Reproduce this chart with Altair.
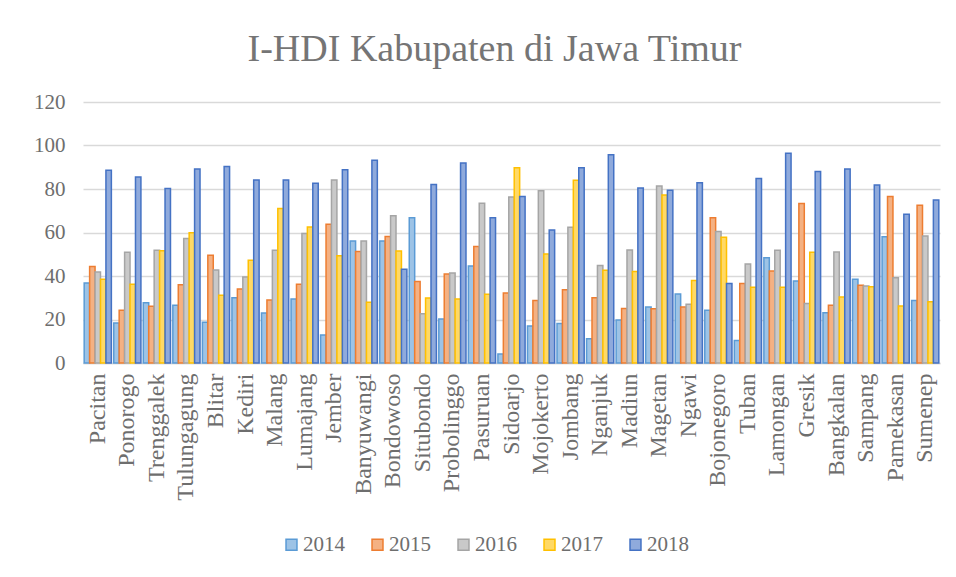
import altair as alt
import pandas as pd

regencies = ["Pacitan", "Ponorogo", "Trenggalek", "Tulungagung", "Blitar", "Kediri", "Malang",
             "Lumajang", "Jember", "Banyuwangi", "Bondowoso", "Situbondo", "Probolinggo",
             "Pasuruan", "Sidoarjo", "Mojokerto", "Jombang", "Nganjuk", "Madiun", "Magetan",
             "Ngawi", "Bojonegoro", "Tuban", "Lamongan", "Gresik", "Bangkalan", "Sampang",
             "Pamekasan", "Sumenep"]
years = ["2014", "2015", "2016", "2017", "2018"]

v2014 = [36.8, 18.4, 27.7, 26.5, 18.7, 30.0, 23.0, 29.4, 12.9, 56.1, 56.1, 66.8, 20.2, 44.6, 4.1,
         17.0, 18.2, 11.2, 19.8, 25.7, 31.7, 24.2, 10.3, 48.4, 37.7, 23.1, 38.5, 58.1, 28.7]
v2015 = [44.4, 24.2, 26.1, 36.0, 49.5, 34.0, 29.0, 36.2, 63.8, 51.3, 58.2, 37.5, 40.9, 53.6, 32.2,
         28.7, 33.7, 30.0, 25.1, 25.0, 25.7, 66.8, 36.5, 42.3, 73.3, 26.5, 35.7, 76.6, 72.5]
v2016 = [41.8, 50.9, 51.8, 57.2, 42.8, 39.5, 51.8, 59.5, 84.1, 56.1, 67.7, 22.7, 41.4, 73.4, 76.3,
         79.2, 62.4, 44.8, 52.0, 81.4, 27.0, 60.5, 45.5, 51.8, 27.3, 51.0, 35.4, 39.2, 58.4]
v2017 = [38.5, 36.2, 51.6, 59.9, 31.1, 47.2, 71.0, 62.5, 49.3, 27.9, 51.5, 29.9, 29.4, 31.6, 89.8,
         50.1, 84.0, 42.6, 42.1, 77.2, 37.9, 57.8, 34.8, 34.8, 50.9, 30.3, 35.1, 26.2, 28.2]
v2018 = [88.6, 85.5, 80.2, 89.2, 90.3, 84.1, 84.1, 82.6, 88.9, 93.2, 43.1, 82.1, 92.0, 66.8, 76.6,
         61.1, 89.8, 95.8, 80.5, 79.4, 82.9, 36.5, 84.8, 96.4, 88.1, 89.2, 81.8, 68.4, 74.9]

series = {"2014": v2014, "2015": v2015, "2016": v2016, "2017": v2017, "2018": v2018}
rows = []
for y, vals in series.items():
    for r, v in zip(regencies, vals):
        rows.append({"Kabupaten": r, "Tahun": y, "Nilai": v})
df = pd.DataFrame(rows)

stroke_colors = ["#5B9BD5", "#ED7D31", "#A5A5A5", "#FFC000", "#4472C4"]
fill_colors = ["#9DC3E6", "#F4B183", "#C9C9C9", "#FFD966", "#8FAADC"]

FONT = "Liberation Serif"
TXT = "#6E6E6E"

chart = alt.Chart(df).mark_bar(strokeWidth=1.5).encode(
    x=alt.X("Kabupaten:N", sort=regencies, title=None,
            scale=alt.Scale(paddingInner=0.08, paddingOuter=0.04),
            axis=alt.Axis(labelAngle=-90, labelAlign="right", labelBaseline="middle",
                          labelFont=FONT, labelFontSize=24, labelColor=TXT,
                          labelPadding=10, ticks=False, domainColor="#D9D9D9",
                          domainWidth=1.5, grid=False)),
    xOffset=alt.XOffset("Tahun:N", sort=years, scale=alt.Scale(paddingInner=0, paddingOuter=0)),
    y=alt.Y("Nilai:Q", title=None,
            scale=alt.Scale(domain=[0, 120], nice=False),
            axis=alt.Axis(values=[0, 20, 40, 60, 80, 100, 120], labelFont=FONT,
                          labelFontSize=21, labelColor=TXT, labelPadding=18,
                          ticks=False, domain=False, gridColor="#D9D9D9", gridWidth=1.5)),
    fill=alt.Fill("Tahun:N", sort=years,
                  scale=alt.Scale(domain=years, range=fill_colors),
                  legend=alt.Legend(title=None, orient="none", direction="horizontal",
                                    legendX=198, legendY=432, symbolType="square",
                                    symbolSize=120, symbolStrokeWidth=1.5,
                                    labelFont=FONT, labelFontSize=21, labelColor=TXT,
                                    columnPadding=22, labelOffset=1)),
    stroke=alt.Stroke("Tahun:N", sort=years,
                      scale=alt.Scale(domain=years, range=stroke_colors),
                      legend=None),
).properties(
    width=857,
    height=261,
    title=alt.TitleParams("I-HDI Kabupaten di Jawa Timur", font=FONT, fontSize=38,
                          fontWeight="normal", color="#757575", anchor="middle",
                          offset=22, dx=-17),
    autosize=alt.AutoSizeParams(type="none"),
    padding={"left": 75, "top": 94, "right": 8, "bottom": 206},
).configure(background="white", font=FONT).configure_view(stroke=None)

chart.save("out.html", embed_options={"renderer": "svg", "actions": False})
